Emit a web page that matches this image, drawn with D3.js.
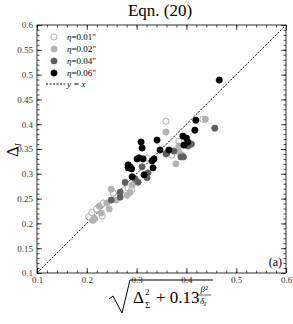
<!DOCTYPE html>
<meta charset="utf-8">
<style>
	body{ margin:0; background:#fff; }
	svg text{ font-family:"Liberation Serif","DejaVu Serif",serif; }
	.tick text{ fill:#333; font-size:9px; }
	.dot{ stroke-width:0.8; }
</style>
<body>
<svg width="293" height="324" id="chart"></svg>
<script src="https://cdn.jsdelivr.net/npm/d3@7"></script>
<script>
	/* data: [x, y] pairs per eta */
	var eta01 = [[0.359,0.406],[0.433,0.410],[0.385,0.366],[0.371,0.338],[0.321,0.332],
		[0.283,0.271],[0.253,0.261],[0.233,0.241],[0.220,0.229],[0.204,0.213],
		[0.231,0.215],[0.210,0.222],[0.290,0.268]];
	var eta02 = [[0.359,0.384],[0.438,0.410],[0.385,0.356],[0.385,0.344],[0.379,0.320],
		[0.291,0.277],[0.249,0.269],[0.287,0.263],[0.281,0.257],[0.259,0.247],
		[0.240,0.241],[0.229,0.221],[0.245,0.229],[0.216,0.209],[0.212,0.206],
		[0.297,0.285],[0.390,0.338],[0.225,0.235]];
	var eta04 = [[0.457,0.392],[0.403,0.356],[0.359,0.340],[0.375,0.346],[0.389,0.334],
		[0.394,0.334],[0.311,0.314],[0.323,0.302],[0.321,0.292],[0.277,0.283],
		[0.303,0.283],[0.267,0.263],[0.267,0.253],[0.249,0.247],[0.361,0.342],
		[0.297,0.290],[0.410,0.360]];
	var eta06 = [[0.466,0.489],[0.419,0.408],[0.417,0.388],[0.309,0.364],[0.341,0.368],
		[0.311,0.352],[0.393,0.376],[0.403,0.364],[0.395,0.358],[0.347,0.348],
		[0.365,0.348],[0.301,0.330],[0.305,0.332],[0.313,0.330],[0.331,0.326],
		[0.335,0.330],[0.287,0.314],[0.333,0.312],[0.315,0.298],[0.291,0.294],
		[0.283,0.318],[0.283,0.312],[0.400,0.372],[0.290,0.310]];
	var seriesNames = ["=0.01\"", "=0.02\"", "=0.04\"", "=0.06\""];
	var xTicks = [0.1, 0.2, 0.3, 0.4, 0.5, 0.6];
	var yTicks = [0.1, 0.15, 0.2, 0.25, 0.3, 0.35, 0.4, 0.45, 0.5, 0.55, 0.6];

	var svg = d3.select("#chart");
	var x0 = 37, x1 = 286, y0 = 273, y1 = 25;
	var x = d3.scaleLinear().domain([0.1, 0.6]).range([x0, x1]);
	var y = d3.scaleLinear().domain([0.1, 0.6]).range([y0, y1]);

	var series = [
		{name: seriesNames[0], pts: eta01, fill: "#fff", stroke: "#9a9a9a"},
		{name: seriesNames[1], pts: eta02, fill: "#b3b3b3", stroke: "#b3b3b3"},
		{name: seriesNames[2], pts: eta04, fill: "#5f5f5f", stroke: "#5f5f5f"},
		{name: seriesNames[3], pts: eta06, fill: "#000", stroke: "#000"}
	];

	// frame
	svg.append("rect").attr("x", x0).attr("y", y1)
		.attr("width", x1 - x0).attr("height", y0 - y1)
		.attr("fill", "none").attr("stroke", "#000").attr("stroke-width", 0.8);

	// ticks on all four sides, pointing in
	var xMinor = d3.range(0.1, 0.6001, 0.02), yMinor = d3.range(0.1, 0.6001, 0.01);
	function addAxis(ax, tr, major, minor, labels){
		var g = svg.append("g").attr("transform", tr);
		g.call(ax.tickValues(minor).tickSize(-2.5).tickFormat(""));
		var g2 = svg.append("g").attr("transform", tr);
		g2.call(ax.tickValues(major).tickSize(-5).tickPadding(4)
			.tickFormat(labels ? d3.format("") : ""));
		[g, g2].forEach(function(s){
			s.select(".domain").remove();
			s.selectAll("line").attr("stroke", "#000").attr("stroke-width", 0.7);
		});
	}
	addAxis(d3.axisBottom(x), "translate(0," + y0 + ")", xTicks, xMinor, true);
	addAxis(d3.axisTop(x), "translate(0," + y1 + ")", xTicks, xMinor, false);
	addAxis(d3.axisLeft(y), "translate(" + x0 + ",0)", yTicks, yMinor, true);
	addAxis(d3.axisRight(y), "translate(" + x1 + ",0)", yTicks, yMinor, false);
	svg.selectAll(".tick text").attr("font-family", "Liberation Serif, serif");

	// y = x line
	svg.append("line").attr("x1", x(0.1)).attr("y1", y(0.1))
		.attr("x2", x(0.6)).attr("y2", y(0.6))
		.attr("stroke", "#000").attr("stroke-width", 1).attr("stroke-dasharray", "2,1.5");

	// points
	series.forEach(function(s){
		svg.append("g").selectAll("circle").data(s.pts).enter().append("circle")
			.attr("class", "dot")
			.attr("cx", function(d){ return x(d[0]); })
			.attr("cy", function(d){ return y(d[1]); })
			.attr("r", 3.1)
			.attr("fill", s.fill).attr("stroke", s.stroke);
	});

	// legend
	var lg = svg.append("g");
	series.forEach(function(s, i){
		var ly = 37 + i * 12;
		lg.append("circle").attr("cx", 54).attr("cy", ly).attr("r", 3.1)
			.attr("fill", s.fill).attr("stroke", s.stroke).attr("stroke-width", 0.8);
		var tx = lg.append("text").attr("x", 67).attr("y", ly + 3).attr("font-size", 9);
		tx.append("tspan").attr("font-style", "italic").text("\u03b7");
		tx.append("tspan").text(s.name);
	});
	lg.append("line").attr("x1", 46).attr("x2", 65).attr("y1", 84).attr("y2", 84)
		.attr("stroke", "#000").attr("stroke-dasharray", "2,1.5");
	lg.append("text").attr("x", 67).attr("y", 87).attr("font-size", 9)
		.attr("font-style", "italic").text("y = x");

	// title
	svg.append("text").attr("x", 160).attr("y", 16).attr("text-anchor", "middle")
		.attr("font-size", 17).text("Eqn. (20)");

	// panel label
	svg.append("text").attr("x", 282).attr("y", 266).attr("text-anchor", "end")
		.attr("font-size", 12).text("(a)");

	// y label: Delta_I
	var yl = svg.append("text").attr("transform", "translate(18,150) rotate(-90)")
		.attr("text-anchor", "middle").attr("font-size", 16);
	yl.append("tspan").text("\u0394");
	yl.append("tspan").attr("font-size", 9).attr("font-style", "italic").attr("dy", 3).text("I");

	// x label: sqrt(Delta_Sigma^2 + 0.13 beta^2/delta_I)
	var xl = svg.append("g");
	xl.append("path").attr("d", "M109,299 L113,296 L122,313 L130,280 L213,280")
		.attr("fill", "none").attr("stroke", "#000").attr("stroke-width", 1);
	xl.append("text").attr("x", 133).attr("y", 303).attr("font-size", 17).text("\u0394");
	xl.append("text").attr("x", 145).attr("y", 295).attr("font-size", 9).text("2");
	xl.append("text").attr("x", 145).attr("y", 308).attr("font-size", 9).text("\u03a3");
	xl.append("text").attr("x", 156).attr("y", 303).attr("font-size", 17).text("+ 0.13");
	xl.append("text").attr("x", 204).attr("y", 292).attr("text-anchor", "middle")
		.attr("font-size", 9).attr("font-style", "italic").text("\u03b2\u00b2");
	xl.append("line").attr("x1", 198).attr("x2", 211).attr("y1", 295).attr("y2", 295)
		.attr("stroke", "#000").attr("stroke-width", 0.6);
	var dn = xl.append("text").attr("x", 203).attr("y", 304).attr("text-anchor", "middle")
		.attr("font-size", 9).attr("font-style", "italic");
	dn.append("tspan").text("\u03b4");
	dn.append("tspan").attr("font-size", 6).attr("dy", 2).text("I");
</script>
</body>
